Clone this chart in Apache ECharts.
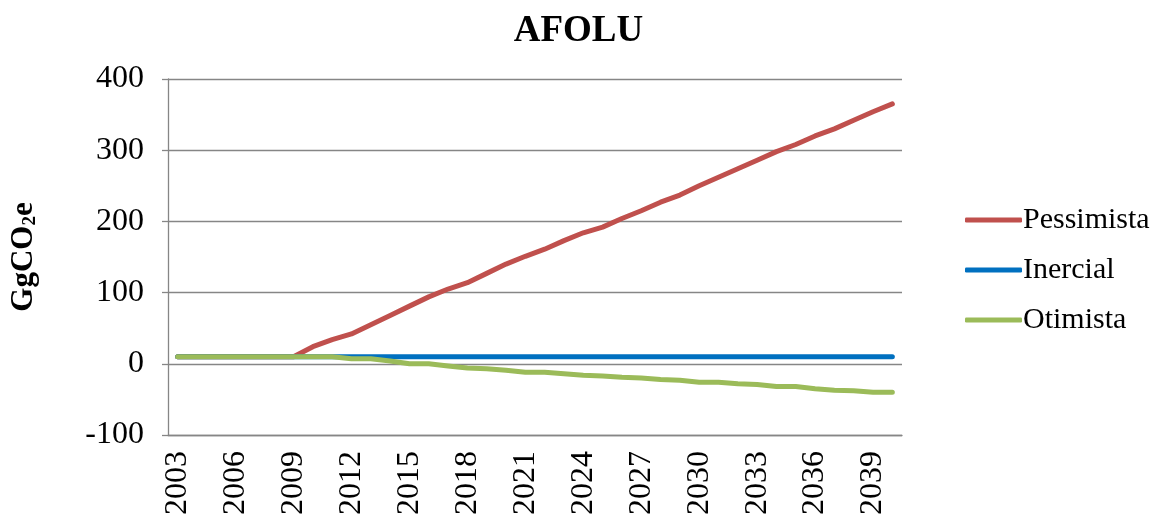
<!DOCTYPE html>
<html>
<head>
<meta charset="utf-8">
<script src="https://cdn.jsdelivr.net/npm/echarts@6/dist/echarts.min.js"></script>
<style>
  html, body { margin: 0; padding: 0; background: #fff; }
  #chart { width: 1157px; height: 518px; }
</style>
</head>
<body>
<div id="chart"></div>
<script>
// anos 2003..2040
const years = ['2003','2004','2005','2006','2007','2008','2009','2010','2011','2012',
  '2013','2014','2015','2016','2017','2018','2019','2020','2021','2022',
  '2023','2024','2025','2026','2027','2028','2029','2030','2031','2032',
  '2033','2034','2035','2036','2037','2038','2039','2040'];

const pessimista = [10, 10, 10, 10, 10, 10, 10, 24, 34, 42,
  55, 68, 81, 94, 105, 114, 127, 140, 151, 161,
  173, 184, 192, 204, 215, 227, 237, 250, 262, 274,
  286, 298, 308, 320, 330, 342, 354, 365];

const inercial = [10, 10, 10, 10, 10, 10, 10, 10, 10, 10,
  10, 10, 10, 10, 10, 10, 10, 10, 10, 10,
  10, 10, 10, 10, 10, 10, 10, 10, 10, 10,
  10, 10, 10, 10, 10, 10, 10, 10];

const otimista = [10, 10, 10, 10, 10, 10, 10, 10, 10, 7,
  7, 4, 0, 0, -3, -6, -7, -9, -12, -12,
  -14, -16, -17, -19, -20, -22, -23, -26, -26, -28,
  -29, -32, -32, -35, -37, -38, -40, -40];

const serif = "'Liberation Serif', 'Times New Roman', serif";
const grey = '#868686';

const chart = echarts.init(document.getElementById('chart'));

chart.setOption({
  animation: false,
  textStyle: { fontFamily: serif, color: '#000' },
  title: {
    text: 'AFOLU',
    left: 'center',
    top: 8,
    textStyle: { fontFamily: serif, fontSize: 37, fontWeight: 'bold', color: '#000' }
  },
  legend: {
    orient: 'vertical',
    left: 960,
    top: 200,
    icon: 'roundRect',
    itemWidth: 57,
    itemHeight: 5,
    itemGap: 20,
    textStyle: { fontFamily: serif, fontSize: 30, color: '#000', padding: [0, 0, 0, -4] },
    data: ['Pessimista', 'Inercial', 'Otimista']
  },
  grid: { left: 168, right: 255, top: 79, bottom: 83 },
  xAxis: {
    type: 'category',
    data: years,
    boundaryGap: true,
    axisLine: { onZero: false, lineStyle: { color: grey, width: 1.3 } },
    axisTick: { interval: 0, length: 6, lineStyle: { color: grey, width: 1.3 } },
    axisLabel: {
      interval: 2,
      rotate: 90,
      margin: 16,
      fontFamily: serif,
      fontSize: 32,
      color: '#000'
    }
  },
  yAxis: {
    type: 'value',
    min: -100,
    max: 400,
    interval: 100,
    name: '{a|GgCO}{b|2}{a|e}',
    nameLocation: 'middle',
    nameRotate: 90,
    nameGap: 128,
    nameTextStyle: {
      rich: {
        a: { fontFamily: serif, fontSize: 31, fontWeight: 'bold', color: '#000' },
        b: { fontFamily: serif, fontSize: 19, fontWeight: 'bold', color: '#000', padding: [14, 0, 0, 0] }
      }
    },
    axisLine: { show: true, lineStyle: { color: grey, width: 1.3 } },
    axisTick: { show: true, length: 6, lineStyle: { color: grey, width: 1.3 } },
    splitLine: { lineStyle: { color: grey, width: 1.3 } },
    axisLabel: { margin: 24, fontFamily: serif, fontSize: 32, color: '#000' }
  },
  series: [
    {
      name: 'Pessimista', type: 'line', data: pessimista, symbol: 'none',
      itemStyle: { color: '#C0504D' },
      lineStyle: { color: '#C0504D', width: 5, cap: 'round', join: 'round' }
    },
    {
      name: 'Inercial', type: 'line', data: inercial, symbol: 'none',
      itemStyle: { color: '#0070C0' },
      lineStyle: { color: '#0070C0', width: 5, cap: 'round', join: 'round' }
    },
    {
      name: 'Otimista', type: 'line', data: otimista, symbol: 'none',
      itemStyle: { color: '#9BBB59' },
      lineStyle: { color: '#9BBB59', width: 5, cap: 'round', join: 'round' }
    }
  ]
});
</script>
</body>
</html>
